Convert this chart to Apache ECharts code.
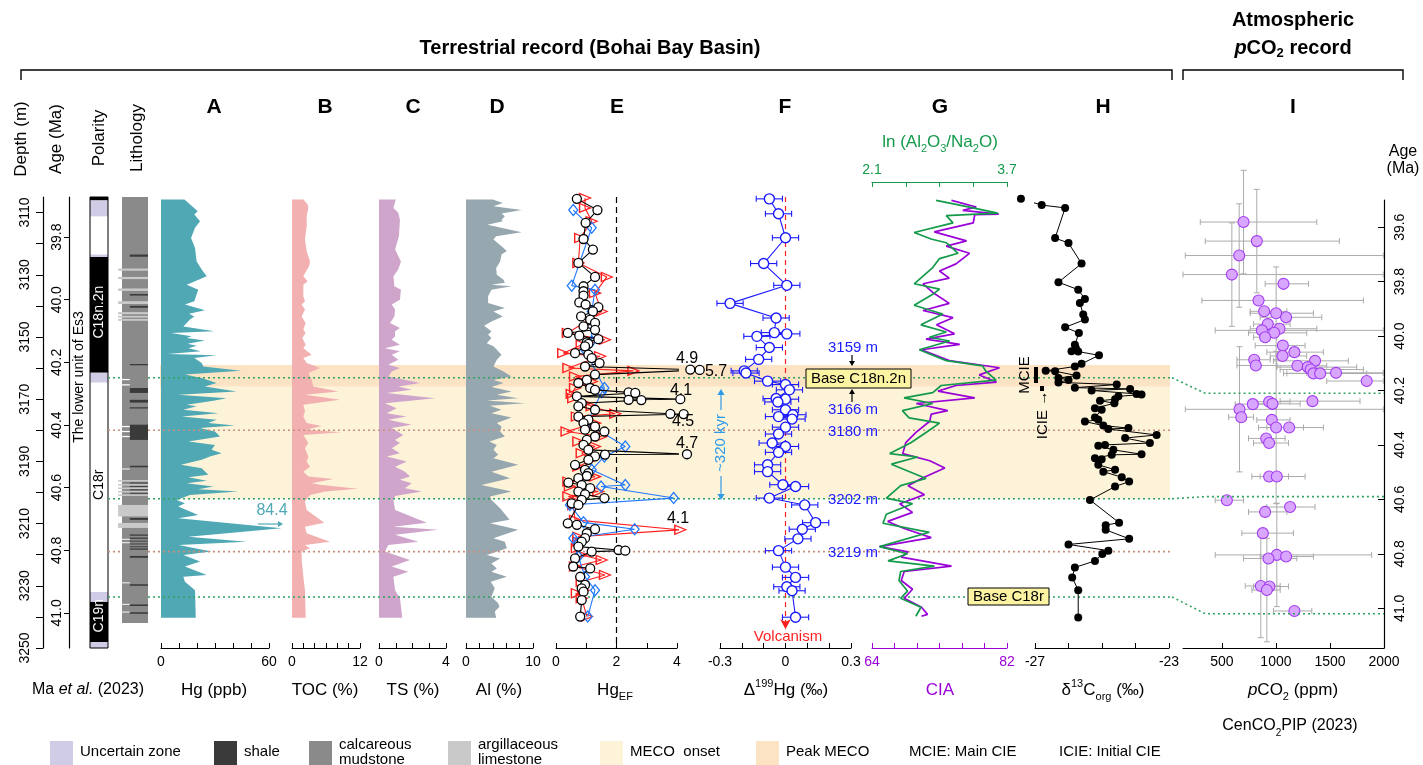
<!DOCTYPE html>
<html>
<head>
<meta charset="utf-8">
<title>MECO record, Bohai Bay Basin</title>
<script src="https://cdn.jsdelivr.net/npm/echarts@6.0.0/dist/echarts.min.js"></script>
<style>
html,body{margin:0;padding:0;background:#ffffff;}
#chart{width:1423px;height:765px;}
</style>
</head>
<body>
<div id="chart"></div>
<script>
// ======================= DATA =======================
const depthTickValues = [3110,3120,3130,3140,3150,3160,3170,3180,3190,3200,3210,3220,3230,3240,3250];
const depthLabelValues = [3110,3130,3150,3170,3190,3210,3230,3250];
const ageTickValues = [39.8,40.0,40.2,40.4,40.6,40.8,41.0];
const pco2AgeTickValues = [39.6,39.8,40.0,40.2,40.4,40.6,40.8,41.0];

// polarity: [top depth, bottom depth, kind] kind 0 normal, 1 reversed, 2 uncertain
const polarityZones = [
  [3105,3106.1,0],[3106.1,3111.3,2],[3111.3,3123.5,1],[3123.5,3124.3,2],[3124.3,3161.5,0],
  [3161.5,3164.7,2],[3164.7,3232.0,1],[3232.0,3235.2,2],[3235.2,3248.1,0],[3248.1,3250,2]
];
const chronNames = ['C18n.2n','C18r','C19n'];
const chronDepths = [3142.0,3197.5,3239.6];

// lithology beds: [top, bottom, kind] 0 calcareous mudstone, 1 shale, 2 argillaceous limestone, 3 gap
const lithologyBeds = [
  [3105,3242,0],
  [3123.5,3124.2,1],[3128.0,3128.7,2],[3130.7,3131.4,2],[3134.4,3135.2,2],[3136.2,3136.7,1],
  [3138.5,3139.4,2],[3140.0,3140.6,1],[3142.0,3142.7,2],[3143.2,3143.8,2],[3144.2,3144.8,2],
  [3158.7,3159.1,1],[3163.5,3163.9,3],[3165.2,3165.6,3],[3166.4,3168.0,1],[3170.2,3171.1,1],
  [3172.6,3173.0,1],[3178.2,3183.1,1],[3178.6,3179.0,3],[3180.2,3180.6,3],[3181.8,3182.2,3],
  [3191.4,3191.9,1],[3192.3,3192.6,3],
  [3196.0,3196.5,2],[3196.8,3197.1,1],[3197.3,3197.8,2],[3197.9,3198.2,1],[3198.4,3198.9,2],
  [3199.0,3199.3,1],[3199.5,3200.0,2],[3200.1,3200.4,1],[3200.6,3201.1,2],
  [3204.0,3207.7,2],[3208.2,3208.8,1],[3209.8,3211.4,2],
  [3213.5,3213.9,1],[3214.5,3214.9,1],[3215.5,3215.8,1],[3216.4,3216.7,1],[3217.3,3217.6,1],[3218.0,3218.4,1],
  [3214.9,3215.2,3],[3216.0,3216.3,3],[3220.4,3221.0,1],[3228.9,3229.2,3],[3229.5,3230.0,1],
  [3235.8,3236.1,3],[3236.0,3236.5,1],[3238.3,3238.6,3],[3238.5,3239.0,1]
];

// A: Hg (ppb) [depth, value]
const hgProfile = [[3105.8,13.0],[3108.8,18.9],[3109.6,20.4],[3110.6,18.5],[3112.8,21.7],[3114.9,18.9],[3118.2,16.7],[3121.4,18.9],[3125.7,19.8],[3128.3,22.6],[3130.5,25.4],[3133.2,14.3],[3134.8,20.7],[3138.5,18.5],[3139.6,13.3],[3141.4,24.4],[3142.5,15.6],[3143.4,18.5],[3144.4,16.1],[3146.6,12.4],[3148.2,29.6],[3148.7,5.6],[3149.8,17.0],[3150.3,14.3],[3151.1,24.4],[3152.2,14.8],[3152.8,19.8],[3153.6,15.2],[3154.6,22.2],[3155.5,3.7],[3155.9,30.9],[3156.8,18.5],[3158.4,22.6],[3159.5,23.5],[3160.9,44.4],[3162.1,13.3],[3163.2,22.6],[3164.8,30.9],[3165.9,24.4],[3167.5,42.0],[3168.6,9.6],[3169.7,36.5],[3170.5,29.1],[3171.8,14.3],[3172.3,19.8],[3173.4,12.4],[3174.5,31.9],[3175.6,11.5],[3176.6,30.9],[3177.7,26.3],[3178.5,41.1],[3179.3,21.7],[3180.4,30.0],[3182.0,32.8],[3183.6,15.2],[3184.7,30.0],[3186.3,28.1],[3187.4,33.7],[3188.4,27.2],[3189.5,22.6],[3191.1,11.1],[3192.2,22.6],[3194.3,26.3],[3195.1,15.2],[3196.2,25.4],[3197.0,14.3],[3198.1,29.1],[3199.0,20.7],[3199.7,43.0],[3200.8,16.1],[3202.4,8.7],[3203.5,13.3],[3204.5,9.6],[3207.2,20.7],[3208.3,9.6],[3211.5,84.4],[3214.2,15.2],[3215.8,47.6],[3216.9,10.0],[3217.9,18.9],[3219.0,28.1],[3220.1,12.4],[3222.2,21.7],[3223.8,13.3],[3226.5,25.4],[3227.1,12.4],[3228.7,13.3],[3231.4,18.9],[3240.3,19.3]];
const hgDrawCap = 67; // the 84.4 ppb spike is drawn truncated

// B: TOC (%)
const tocProfile = [[3105.8,2.0],[3107.4,2.76],[3108.5,2.88],[3111.2,2.59],[3114.4,2.59],[3118.7,2.29],[3122.4,2.59],[3125.7,3.18],[3127.3,3.0],[3130.5,2.0],[3132.1,2.76],[3133.2,2.0],[3136.9,2.0],[3138.5,2.29],[3139.6,1.71],[3141.2,2.29],[3143.4,1.71],[3145.5,2.41],[3147.7,2.0],[3148.7,2.41],[3150.3,1.82],[3152.5,2.41],[3153.6,2.0],[3155.7,3.47],[3156.8,2.0],[3158.4,2.59],[3160.0,4.94],[3161.6,2.88],[3163.8,3.47],[3165.9,3.76],[3167.5,8.18],[3168.6,2.29],[3170.2,8.47],[3171.8,2.0],[3173.9,2.29],[3175.6,2.0],[3177.7,2.59],[3178.6,5.24],[3179.8,2.59],[3180.6,8.76],[3181.5,2.0],[3184.1,2.88],[3185.8,2.29],[3188.4,2.88],[3190.0,2.59],[3191.7,3.18],[3193.3,2.0],[3194.9,2.88],[3195.7,7.29],[3197.0,3.47],[3197.6,5.24],[3198.8,11.7],[3199.7,5.82],[3200.8,3.18],[3202.9,2.29],[3205.6,2.59],[3209.7,5.7],[3211.0,2.29],[3213.1,2.59],[3215.8,6.7],[3216.9,2.29],[3217.9,3.18],[3219.0,1.71],[3221.7,1.71],[3227.1,2.0],[3231.4,2.29],[3240.3,2.41]];

// C: TS (%)
const tsProfile = [[3105.8,1.0],[3108.5,0.86],[3110.1,1.15],[3112.3,1.25],[3117.6,1.19],[3121.9,0.96],[3125.7,1.31],[3128.3,1.15],[3130.5,0.86],[3133.7,0.92],[3134.8,1.31],[3138.0,1.25],[3139.6,0.76],[3141.2,0.96],[3143.4,0.92],[3145.5,0.66],[3147.1,1.25],[3148.2,0.96],[3149.8,0.96],[3150.9,0.76],[3152.5,1.25],[3153.6,0.36],[3154.6,1.25],[3155.7,0.76],[3157.3,1.15],[3158.9,0.56],[3160.0,1.25],[3161.1,0.76],[3162.7,0.56],[3164.8,2.45],[3165.9,1.15],[3167.0,1.95],[3168.0,0.46],[3169.7,3.34],[3171.3,0.36],[3172.9,1.05],[3174.5,0.46],[3175.6,1.65],[3176.6,0.56],[3178.2,1.95],[3179.3,0.76],[3181.5,1.45],[3183.1,0.96],[3184.1,1.25],[3185.8,0.76],[3187.4,1.25],[3188.4,0.46],[3190.0,1.65],[3191.7,0.96],[3193.3,1.55],[3194.9,1.85],[3195.9,1.25],[3197.0,1.95],[3198.6,1.55],[3199.7,2.55],[3201.1,0.96],[3202.4,0.86],[3205.6,0.96],[3209.7,2.85],[3211.0,0.86],[3212.0,3.54],[3213.6,0.96],[3215.8,2.35],[3216.9,0.56],[3219.0,0.36],[3221.7,1.85],[3223.8,0.76],[3225.5,1.75],[3227.1,0.86],[3231.4,0.96],[3234.0,1.25],[3240.3,1.39]];

// D: Al (%)
const alProfile = [[3105.8,4.0],[3106.9,5.5],[3108.0,4.1],[3109.2,8.3],[3110.3,5.3],[3111.2,5.8],[3112.3,5.3],[3112.8,5.5],[3113.9,3.2],[3116.3,8.3],[3117.6,4.5],[3118.7,4.1],[3120.8,5.3],[3122.4,6.1],[3123.5,5.3],[3125.7,5.1],[3127.8,4.5],[3130.0,4.6],[3131.6,5.6],[3132.6,5.8],[3133.2,3.8],[3133.7,6.8],[3134.8,3.8],[3136.9,3.3],[3139.1,3.3],[3140.7,5.8],[3141.8,4.1],[3143.4,5.5],[3145.0,3.8],[3146.4,2.7],[3148.2,3.8],[3149.3,3.3],[3150.3,3.8],[3152.0,3.1],[3153.0,4.1],[3154.1,4.6],[3155.7,5.3],[3157.3,4.6],[3159.5,4.1],[3161.1,5.6],[3162.7,6.8],[3163.8,4.1],[3164.8,5.6],[3166.1,3.8],[3167.5,6.8],[3168.6,4.6],[3169.7,7.8],[3170.4,3.1],[3171.3,8.8],[3172.1,3.6],[3173.4,5.3],[3174.5,3.8],[3175.9,6.8],[3177.7,4.6],[3178.8,5.3],[3180.4,5.1],[3182.0,5.8],[3183.6,3.5],[3184.7,4.6],[3186.3,4.1],[3187.9,4.8],[3189.0,4.1],[3191.1,7.8],[3193.3,3.8],[3195.4,6.6],[3197.6,2.3],[3199.7,6.8],[3201.3,3.6],[3202.4,3.8],[3205.1,5.1],[3208.8,6.5],[3209.9,3.6],[3212.0,7.8],[3214.7,4.1],[3215.8,5.8],[3217.9,6.1],[3220.1,3.1],[3221.2,5.1],[3222.8,3.8],[3224.4,4.6],[3225.5,3.8],[3227.1,6.1],[3228.7,3.7],[3230.8,4.3],[3233.5,3.8],[3235.6,4.8],[3236.7,5.0],[3238.3,4.3],[3240.3,4.5]];

// E: Hg enrichment factor, three normalisations [depth, HgEF]
const hgEfBlack = [[3105.6,0.69],[3109.2,1.37],[3113.3,0.98],[3118.5,0.91],[3121.9,1.22],[3126.2,0.74],[3130.7,1.29],[3133.7,0.91],[3135.3,0.91],[3136.7,0.91],[3138.9,0.77],[3139.6,0.98],[3140.4,1.40],[3141.8,1.22],[3143.4,0.83],[3144.4,1.13],[3145.5,1.29],[3146.6,0.91],[3147.7,1.29],[3148.7,0.39],[3149.6,0.77],[3150.7,1.40],[3151.7,1.02],[3152.2,1.07],[3153.0,0.96],[3155.2,0.63],[3155.7,1.07],[3156.8,1.18],[3158.4,1.44],[3159.5,0.96],[3160.5,4.44],[3160.6,4.75],[3162.1,1.29],[3163.8,1.02],[3164.8,0.74],[3166.4,1.13],[3167.0,1.29],[3167.8,2.40],[3168.0,2.62],[3169.1,0.69],[3170.0,4.11],[3170.2,2.40],[3170.3,2.82],[3171.3,0.85],[3172.3,0.74],[3173.4,1.29],[3174.7,3.78],[3174.8,4.22],[3175.6,0.74],[3176.6,1.07],[3177.7,0.91],[3178.8,1.29],[3179.8,0.96],[3180.4,1.60],[3182.0,1.29],[3183.1,1.02],[3184.7,0.91],[3186.3,1.07],[3187.7,4.33],[3187.8,1.62],[3188.4,1.29],[3189.5,1.07],[3191.1,0.63],[3192.7,0.96],[3193.8,1.07],[3194.7,1.02],[3195.4,0.74],[3196.8,0.41],[3197.6,0.85],[3198.6,1.13],[3199.7,0.74],[3200.6,0.96],[3201.8,1.60],[3202.4,0.85],[3203.5,0.52],[3204.0,0.74],[3209.9,0.39],[3210.4,0.69],[3211.8,1.29],[3213.1,1.02],[3214.7,0.96],[3215.8,0.85],[3217.4,0.74],[3218.5,2.07],[3218.7,2.29],[3219.0,1.18],[3221.2,0.63],[3223.8,0.57],[3224.4,1.13],[3227.1,0.80],[3229.7,0.96],[3230.8,0.85],[3231.9,0.91],[3234.6,0.85],[3239.9,0.80]];
const hgEfRed = [[3105.3,0.96],[3108.5,0.96],[3112.8,1.18],[3118.2,0.80],[3126.2,0.74],[3130.7,1.68],[3135.9,1.29],[3141.8,1.51],[3148.7,0.39],[3150.9,1.62],[3152.5,0.85],[3155.2,0.24],[3156.2,1.46],[3160.0,0.41],[3160.9,2.56],[3162.7,0.63],[3164.3,1.18],[3166.4,0.63],[3168.3,0.52],[3169.7,0.57],[3171.3,0.96],[3172.3,1.18],[3174.7,1.96],[3175.6,0.69],[3177.7,1.29],[3180.4,0.35],[3182.0,1.51],[3183.6,0.74],[3185.2,1.29],[3187.4,0.85],[3189.5,1.18],[3191.7,0.74],[3194.9,1.29],[3196.5,0.41],[3198.1,0.46],[3199.7,1.40],[3201.3,0.41],[3202.4,0.74],[3204.0,0.57],[3208.8,0.63],[3212.0,4.11],[3214.2,0.74],[3215.8,0.74],[3217.9,0.69],[3220.1,0.85],[3221.7,1.51],[3223.8,0.63],[3226.5,1.62],[3228.7,0.85],[3231.4,0.91],[3232.4,0.69],[3234.0,0.85],[3239.9,1.02]];
const hgEfBlue = [[3109.2,0.57],[3114.9,1.18],[3133.5,0.52],[3134.8,1.29],[3141.8,1.18],[3151.4,1.18],[3154.1,0.96],[3166.4,1.60],[3167.8,1.51],[3177.7,1.02],[3185.2,2.29],[3188.4,1.60],[3192.7,1.18],[3197.6,2.29],[3198.1,1.49],[3201.8,3.89],[3204.0,0.46],[3209.6,0.91],[3211.8,2.60],[3214.7,0.57],[3220.6,0.74],[3227.1,0.96],[3231.4,1.29],[3239.9,1.05]];
const hgEfPeakLabels = ['4.9','5.7','4.1','4.5','4.7','4.1'];

// F: Δ199Hg (‰) [depth, value, error]
const d199Hg = [[3105.6,-0.074,0.06],[3110.4,-0.032,0.06],[3118.1,0.0,0.06],[3126.4,-0.10,0.06],[3133.4,0.006,0.06],[3139.2,-0.254,0.06],[3143.9,-0.043,0.06],[3148.6,-0.051,0.06],[3149.0,0.006,0.06],[3149.8,-0.131,0.06],[3153.4,-0.074,0.06],[3157.2,-0.123,0.06],[3160.9,-0.189,0.06],[3161.6,-0.181,0.06],[3164.2,-0.082,0.06],[3165.3,0.0,0.06],[3167.0,0.018,0.06],[3169.8,-0.043,0.06],[3170.0,0.0,0.06],[3170.9,-0.035,0.06],[3173.4,0.0,0.06],[3175.0,0.034,0.06],[3175.6,-0.032,0.06],[3176.4,0.03,0.06],[3179.0,0.0,0.06],[3181.2,-0.032,0.06],[3184.1,-0.061,0.06],[3185.2,0.0,0.06],[3187.1,-0.032,0.06],[3191.1,-0.082,0.06],[3193.3,-0.082,0.06],[3197.5,-0.012,0.06],[3198.1,0.046,0.06],[3201.8,-0.074,0.06],[3204.0,0.088,0.06],[3209.7,0.138,0.06],[3211.8,0.077,0.06],[3214.9,0.057,0.06],[3218.7,-0.032,0.06],[3224.0,0.0,0.06],[3227.3,0.046,0.06],[3230.3,0.006,0.06],[3231.6,0.03,0.06],[3240.1,0.046,0.06]];

// G: CIA and ln(Al2O3/Na2O) [depth, value]
const ciaProfile = [[3106.1,74.6],[3108.2,77.9],[3109.3,76.1],[3110.5,80.9],[3110.7,77.7],[3113.3,77.5],[3116.2,72.3],[3119.1,76.6],[3120.8,73.9],[3123.1,77.0],[3126.5,75.2],[3128.8,73.0],[3131.1,74.3],[3132.9,70.8],[3135.7,72.1],[3139.2,74.3],[3141.5,70.8],[3143.8,74.8],[3146.1,72.6],[3149.0,75.0],[3150.7,71.2],[3152.4,75.7],[3154.1,70.6],[3157.6,74.3],[3159.9,81.0],[3162.2,78.3],[3164.5,80.6],[3165.6,75.2],[3167.4,72.8],[3169.6,77.7],[3171.4,69.9],[3173.7,74.1],[3174.8,71.9],[3177.1,71.7],[3180.6,69.9],[3184.0,68.5],[3187.5,68.1],[3189.8,71.7],[3192.1,73.7],[3195.5,70.6],[3197.8,68.8],[3200.7,71.0],[3203.6,67.7],[3206.4,69.4],[3209.3,66.1],[3211.6,68.3],[3214.5,71.9],[3217.4,65.0],[3219.1,68.8],[3220.8,67.9],[3223.7,74.6],[3225.4,68.3],[3228.3,67.9],[3231.1,69.4],[3234.0,68.3],[3236.9,70.6],[3239.2,71.4],[3239.8,70.6]];
const lnAlNaProfile = [[3106.1,2.86],[3108.2,3.24],[3110.2,3.59],[3111.0,2.98],[3113.3,3.06],[3116.4,2.60],[3118.5,2.80],[3119.7,2.98],[3123.1,3.12],[3124.8,2.90],[3127.7,2.82],[3132.9,2.60],[3134.6,2.90],[3136.3,2.82],[3139.8,2.60],[3141.5,2.80],[3142.6,2.94],[3146.1,2.68],[3148.4,2.98],[3150.1,2.78],[3151.3,3.02],[3154.1,2.66],[3157.6,2.98],[3159.3,3.41],[3161.0,3.45],[3163.9,3.57],[3165.6,2.92],[3167.9,2.82],[3169.6,2.48],[3171.4,2.82],[3173.7,2.46],[3176.0,2.54],[3177.7,2.90],[3180.0,2.78],[3184.0,2.56],[3187.5,2.31],[3188.6,2.64],[3190.9,2.33],[3195.5,2.74],[3197.8,2.44],[3201.8,2.27],[3203.6,2.58],[3207.0,2.27],[3209.9,2.23],[3212.8,2.78],[3217.4,2.19],[3219.7,2.52],[3222.0,2.29],[3223.7,2.84],[3225.4,2.44],[3228.3,2.42],[3231.7,2.52],[3234.0,2.44],[3236.9,2.68],[3239.8,2.62]];

// H: δ13Corg (‰) [depth, value]
const d13Corg = [[3105.6,-27.42],[3107.6,-26.80],[3108.5,-26.10],[3118.2,-26.40],[3119.8,-26.00],[3126.4,-25.61],[3132.4,-26.30],[3134.8,-25.71],[3137.8,-25.51],[3139.1,-25.66],[3142.8,-25.56],[3144.4,-25.51],[3146.9,-26.10],[3148.7,-25.69],[3152.5,-25.81],[3153.6,-25.78],[3154.6,-25.91],[3154.7,-25.71],[3155.9,-25.09],[3158.6,-25.61],[3159.5,-25.81],[3160.9,-26.68],[3161.0,-26.40],[3162.4,-25.76],[3163.2,-26.30],[3163.8,-26.00],[3164.6,-26.30],[3165.3,-24.56],[3166.3,-25.81],[3166.7,-24.16],[3167.2,-25.31],[3168.3,-23.97],[3168.5,-23.82],[3169.1,-24.51],[3170.0,-24.61],[3170.5,-25.06],[3171.3,-24.63],[3172.9,-25.21],[3173.4,-25.01],[3175.9,-25.21],[3176.6,-25.11],[3177.2,-25.51],[3178.5,-24.96],[3179.3,-24.21],[3179.6,-24.81],[3181.5,-23.37],[3182.5,-24.31],[3184.1,-23.57],[3184.7,-24.91],[3185.0,-25.11],[3186.3,-24.66],[3187.7,-23.82],[3187.9,-24.71],[3189.0,-25.21],[3189.3,-25.01],[3191.1,-25.11],[3192.7,-24.61],[3193.3,-24.96],[3195.1,-24.41],[3196.5,-24.19],[3198.1,-24.61],[3202.4,-25.36],[3209.7,-24.49],[3210.5,-24.89],[3212.0,-24.89],[3214.9,-24.19],[3216.7,-26.00],[3218.7,-24.81],[3219.8,-24.99],[3222.0,-25.21],[3224.1,-25.81],[3227.3,-25.89],[3231.4,-25.71],[3240.2,-25.71]];

// I: pCO2 (CenCO2PIP 2023) [age Ma, pCO2, low, high, age error]
const pco2Records = [[39.581,700,300,1378,0.19],[39.651,823,346,1587,0.19],[39.704,660,161,1994,0.19],[39.774,592,140,1994,0.19],[39.808,1070,900,1301,0],[39.869,839,315,1809,0],[39.909,891,762,1101,0],[39.916,1002,762,1347,0.17],[39.931,1094,854,1424,0],[39.956,925,793,1131,0],[39.973,1033,762,1378,0],[39.979,870,438,1994,0],[39.988,984,746,1285,0],[40.004,900,793,1008,0],[40.035,1064,808,1270,0],[40.059,1171,916,1439,0],[40.073,1061,947,1285,0],[40.087,799,639,947,0],[40.091,1362,977,1670,0],[40.108,814,639,1008,0],[40.109,1199,1008,1470,0],[40.114,1295,1008,1747,0],[40.123,1322,1039,1809,0],[40.137,1347,1101,1994,0],[40.137,1409,1070,1840,0],[40.135,1556,1285,1994,0],[40.165,1840,1470,1994,0],[40.241,937,762,1131,0],[40.249,968,762,1224,0],[40.250,786,623,947,0],[40.239,1338,1039,1778,0],[40.269,663,161,1994,0.23],[40.298,679,562,793,0],[40.308,962,823,1131,0],[40.336,1002,839,1255,0.28],[40.336,1122,916,1439,0],[40.376,910,746,1085,0],[40.393,937,793,1116,0],[40.516,937,777,1116,0],[40.516,1008,854,1270,0],[40.603,546,438,700,0],[40.628,1131,916,1362,0],[40.646,900,746,1101,0],[40.724,879,685,1162,0],[40.804,1008,438,1886,0.19],[40.810,1094,854,1347,0],[40.817,931,700,1193,0],[40.918,860,716,1039,0.19],[40.920,940,793,1116,0],[40.933,916,777,1039,0.19],[41.010,1171,977,1332,0]];

// MECO intervals [top, bottom, kind] 0 onset, 1 peak
const mecoBands = [[3159,3166,1],[3166,3202,0]];
// correlation lines [depth, kind 0 green / 1 brown, age in pCO2 panel]
const eventLines = [[3163.1,0,40.21],[3180,1,null],[3202,0,40.59],[3219,1,null],[3233.6,0,41.02]];
const eventConnectorKnee = 345; // pCO2 value where the sloping tie reaches its age

// ======================= CHART =======================
const FONT = '"Liberation Sans", Arial, Helvetica, sans-serif';
const DEPTH_MIN = 3105, DEPTH_MAX = 3250;
const PANEL_TOP = 197, PANEL_H = 451;
const C = {
  hg:'#4fa8b4', toc:'#f2b0b0', ts:'#cfa5cc', al:'#97a7b0',
  onset:'#fdf3d8', peak:'#fbe3c4', green:'#2fa360', brown:'#c8907c',
  uncertain:'#d0cce6', shale:'#3a3a3a', mud:'#8a8a8a', lime:'#c9c9c9',
  red:'#ff1f1f', blueE:'#1f78ff', blueF:'#1a1aff', cia:'#9a00d8', ln:'#139a4a',
  pco2Fill:'#d9a6ff', pco2Edge:'#a23cf0', err:'#ababab'
};

function gridBox(left, width, top, height) {
  return {left: left, width: width, top: top == null ? PANEL_TOP : top, height: height == null ? PANEL_H : height,
          containLabel: false, outerBoundsMode: 'none'};
}
const grids = [
  gridBox(43,1), gridBox(69,1), gridBox(90,18), gridBox(122,26),
  gridBox(161,108), gridBox(292,68), gridBox(379,67), gridBox(466,67),
  gridBox(556,121), gridBox(720,131), gridBox(872,135), gridBox(1035,134),
  gridBox(1183,201,200,448), gridBox(160,1010), gridBox(108,1064)
];

function plainNumber(v) { return String(Math.round(v * 1000) / 1000); }
function hiddenX(gi, min, max) { return {type:'value', gridIndex:gi, min:min, max:max, show:false}; }
function depthY(gi) { return {type:'value', gridIndex:gi, min:DEPTH_MIN, max:DEPTH_MAX, inverse:true, show:false}; }
function bottomAxis(gi, min, max, ticks, labels, color) {
  color = color || '#000';
  return {type:'value', gridIndex:gi, min:min, max:max, position:'bottom',
    axisLine:{show:true, onZero:false, lineStyle:{color:color, width:1}},
    axisTick:{show:true, inside:true, length:5, customValues:ticks, lineStyle:{color:color, width:1}},
    axisLabel:{show:true, customValues:labels, color:color, fontSize:14, fontFamily:FONT, margin:7, formatter: plainNumber},
    splitLine:{show:false}};
}
function topAxis(gi, min, max, ticks, labels, color) {
  return {type:'value', gridIndex:gi, min:min, max:max, position:'top', offset:15,
    axisLine:{show:true, onZero:false, lineStyle:{color:color, width:1.2}},
    axisTick:{show:true, inside:true, length:5, customValues:ticks, lineStyle:{color:color}},
    axisLabel:{show:true, customValues:labels, color:color, fontSize:14, fontFamily:FONT, margin:5,
               formatter: function (v) { return v.toFixed(1); }},
    splitLine:{show:false}};
}

const xAxes = [
  hiddenX(0,0,1), hiddenX(1,0,1), hiddenX(2,0,1), hiddenX(3,0,1),
  bottomAxis(4,0,60,[0,10,20,30,40,50,60],[0,60]),
  bottomAxis(5,0,12,[0,2,4,6,8,10,12],[0,12]),
  bottomAxis(6,0,4,[0,1,2,3,4],[0,4]),
  bottomAxis(7,0,10,[0,2,4,6,8,10],[0,10]),
  bottomAxis(8,0,4,[0,1,2,3,4],[0,2,4]),
  bottomAxis(9,-0.3,0.3,[-0.3,-0.2,-0.1,0,0.1,0.2,0.3],[-0.3,0,0.3]),
  bottomAxis(10,64,82,[64,67,70,73,76,79,82],[64,82],C.cia),
  bottomAxis(11,-27,-23,[-27,-26,-25,-24,-23],[-27,-23]),
  bottomAxis(12,140,2000,[500,1000,1500,2000],[500,1000,1500,2000]),
  hiddenX(13,0,1), hiddenX(14,0,1),
  topAxis(10,2.1,3.7,[2.1,2.5,2.9,3.3,3.7],[2.1,3.7],C.ln)
];

const yAxes = [
  {type:'value', gridIndex:0, min:DEPTH_MIN, max:DEPTH_MAX, inverse:true, position:'left',
   axisLine:{show:true, onZero:false, lineStyle:{color:'#000', width:1.2}},
   axisTick:{show:true, length:7, customValues:depthTickValues, lineStyle:{color:'#000'}},
   axisLabel:{customValues:depthLabelValues, rotate:90, margin:11, fontSize:14, fontFamily:FONT, color:'#000',
              formatter: function (v) { return String(Math.round(v)); }},
   splitLine:{show:false}},
  {type:'value', gridIndex:1, min:39.672, max:41.112, inverse:true, position:'left',
   axisLine:{show:true, onZero:false, lineStyle:{color:'#000', width:1.2}},
   axisTick:{show:true, length:5, customValues:ageTickValues, lineStyle:{color:'#000'}},
   axisLabel:{customValues:ageTickValues, rotate:90, margin:5, fontSize:14, fontFamily:FONT, color:'#000',
              formatter:function (v) { return v.toFixed(1); }},
   splitLine:{show:false}},
  depthY(2), depthY(3), depthY(4), depthY(5), depthY(6), depthY(7), depthY(8), depthY(9), depthY(10), depthY(11),
  {type:'value', gridIndex:12, min:39.5, max:41.146, inverse:true, position:'right',
   axisLine:{show:true, onZero:false, lineStyle:{color:'#000', width:1.2}},
   axisTick:{show:true, inside:true, length:6, customValues:pco2AgeTickValues, lineStyle:{color:'#000'}},
   axisLabel:{customValues:pco2AgeTickValues, rotate:90, margin:9, fontSize:14, fontFamily:FONT, color:'#000',
              formatter:function (v) { return v.toFixed(1); }},
   splitLine:{show:false}},
  depthY(13), depthY(14)
];

function rectFrom(api, x0, d0, x1, d1) {
  const a = api.coord([x0, d0]), b = api.coord([x1, d1]);
  return {x: Math.min(a[0], b[0]), y: Math.min(a[1], b[1]), width: Math.abs(b[0] - a[0]), height: Math.abs(b[1] - a[1])};
}

function profileSeries(idx, profile, color, cap) {
  return {type:'custom', xAxisIndex:idx, yAxisIndex:idx, z:3, silent:true, clip:false,
    data:[[0, profile[0][0]]],
    renderItem: function (params, api) {
      const pts = [api.coord([0, profile[0][0]])];
      profile.forEach(function (p) { pts.push(api.coord([cap == null ? p[1] : Math.min(p[1], cap), p[0]])); });
      pts.push(api.coord([0, profile[profile.length - 1][0]]));
      return {type:'polygon', shape:{points:pts}, style:{fill:color, stroke:null}};
    }};
}

function hgEfSeries(data, symbol, rotate, size, color, z) {
  return {type:'line', xAxisIndex:8, yAxisIndex:8, z:z, clip:false, showAllSymbol:true, animation:false,
    data: data.map(function (p) { return [p[1], p[0]]; }),
    symbol:symbol, symbolSize:size, symbolRotate:rotate,
    lineStyle:{color:color, width:1.1},
    itemStyle:{color: symbol === 'circle' ? '#ffffff' : 'rgba(255,255,255,0)', borderColor:color, borderWidth:1.3}};
}

const polarityColors = ['#000000', '#ffffff', C.uncertain];
const chronColors = ['#ffffff', '#000000', '#ffffff'];
const lithoColors = [C.mud, C.shale, C.lime, '#ffffff'];
const lithoSpan = [[0,1],[0.3,1],[-0.15,1],[0,0.3]];

const series = [
  // MECO bands
  {type:'custom', xAxisIndex:13, yAxisIndex:13, z:1, silent:true,
   data: mecoBands,
   renderItem: function (params, api) {
     return {type:'rect', shape: rectFrom(api, 0, api.value(0), 1, api.value(1)),
             style:{fill: api.value(2) === 1 ? C.peak : C.onset}};
   }},
  // polarity
  {type:'custom', xAxisIndex:2, yAxisIndex:2, z:3, silent:true,
   data: polarityZones,
   renderItem: function (params, api) {
     return {type:'rect', shape: rectFrom(api, 0, api.value(0), 1, api.value(1)),
             style:{fill: polarityColors[api.value(2)]}};
   }},
  {type:'custom', xAxisIndex:2, yAxisIndex:2, z:4, silent:true,
   data: [[DEPTH_MIN, DEPTH_MAX]],
   renderItem: function (params, api) {
     return {type:'rect', shape: rectFrom(api, 0, api.value(0), 1, api.value(1)),
             style:{fill:null, stroke:'#000', lineWidth:1}};
   }},
  {type:'custom', xAxisIndex:2, yAxisIndex:2, z:5, silent:true,
   data: chronDepths.map(function (d, i) { return [0.5, d, i]; }),
   renderItem: function (params, api) {
     const p = api.coord([api.value(0), api.value(1)]);
     const i = api.value(2);
     return {type:'text', x:p[0], y:p[1], rotation:Math.PI / 2,
             style:{text: chronNames[i], fill: chronColors[i], fontSize:14, fontFamily:FONT, align:'center', verticalAlign:'middle'}};
   }},
  // lithology
  {type:'custom', xAxisIndex:3, yAxisIndex:3, z:6, silent:true,
   data: lithologyBeds,
   renderItem: function (params, api) {
     const k = api.value(2);
     return {type:'rect', shape: rectFrom(api, lithoSpan[k][0], api.value(0), lithoSpan[k][1], api.value(1)),
             style:{fill: lithoColors[k]}};
   }},
  // profiles A-D
  profileSeries(4, hgProfile, C.hg, hgDrawCap),
  profileSeries(5, tocProfile, C.toc),
  profileSeries(6, tsProfile, C.ts),
  profileSeries(7, alProfile, C.al),
  // event lines
  {type:'custom', xAxisIndex:14, yAxisIndex:14, z:5, silent:true,
   data: eventLines.map(function (e) { return [e[0], e[1]]; }),
   renderItem: function (params, api) {
     const a = api.coord([0, api.value(0)]), b = api.coord([1, api.value(0)]);
     return {type:'line', shape:{x1:a[0], y1:a[1], x2:b[0], y2:b[1]},
             style:{stroke: api.value(1) === 0 ? C.green : C.brown, lineWidth:1.6, lineDash:[2,3]}};
   }},
  // E
  Object.assign(hgEfSeries(hgEfRed, 'triangle', -90, [9,11], C.red, 6), {
    markLine:{silent:true, symbol:['none','none'], label:{show:false},
      lineStyle:{color:'#000', type:[6,4], width:1.2}, data:[{xAxis:2}]}}),
  hgEfSeries(hgEfBlue, 'diamond', 0, [9,11], C.blueE, 7),
  hgEfSeries(hgEfBlack, 'circle', 0, 9, '#000000', 8),
  // F error bars
  {type:'custom', xAxisIndex:9, yAxisIndex:9, z:6, silent:true, clip:false,
   data: d199Hg.map(function (r) { return [r[1], r[0], r[2]]; }),
   renderItem: function (params, api) {
     const v = api.value(0), d = api.value(1), e = api.value(2);
     const a = api.coord([v - e, d]), b = api.coord([v + e, d]);
     const st = {stroke:C.blueF, lineWidth:1.1};
     return {type:'group', children:[
       {type:'line', shape:{x1:a[0], y1:a[1], x2:b[0], y2:b[1]}, style:st},
       {type:'line', shape:{x1:a[0], y1:a[1] - 3, x2:a[0], y2:a[1] + 3}, style:st},
       {type:'line', shape:{x1:b[0], y1:b[1] - 3, x2:b[0], y2:b[1] + 3}, style:st}
     ]};
   }},
  {type:'line', xAxisIndex:9, yAxisIndex:9, z:7, clip:false, showAllSymbol:true,
   data: d199Hg.map(function (r) { return [r[1], r[0]]; }),
   symbol:'circle', symbolSize:10,
   lineStyle:{color:C.blueF, width:1.1},
   itemStyle:{color:'#ffffff', borderColor:C.blueF, borderWidth:1.4},
   markLine:{silent:true, symbol:['none','arrow'], symbolSize:[8,10], label:{show:false},
     lineStyle:{color:C.red, type:[5,4], width:1.2},
     data:[[{coord:[0, DEPTH_MIN]}, {coord:[0, 3244]}]]}},
  // G
  {type:'line', xAxisIndex:10, yAxisIndex:10, z:6, clip:false, symbol:'none',
   data: ciaProfile.map(function (p) { return [p[1], p[0]]; }),
   lineStyle:{color:C.cia, width:1.7}},
  {type:'line', xAxisIndex:15, yAxisIndex:10, z:7, clip:false, symbol:'none',
   data: lnAlNaProfile.map(function (p) { return [p[1], p[0]]; }),
   lineStyle:{color:C.ln, width:1.7}},
  // H
  {type:'line', xAxisIndex:11, yAxisIndex:11, z:7, clip:false, showAllSymbol:true,
   data: d13Corg.map(function (p) { return [p[1], p[0]]; }),
   symbol:'circle', symbolSize:8,
   lineStyle:{color:'#000', width:1}, itemStyle:{color:'#000'}},
  // I error bars
  {type:'custom', xAxisIndex:12, yAxisIndex:12, z:5, silent:true, clip:false,
   data: pco2Records.map(function (r) { return [r[1], r[0], r[2], r[3], r[4]]; }),
   renderItem: function (params, api) {
     const x = api.value(0), age = api.value(1), lo = api.value(2), hi = api.value(3), ae = api.value(4);
     const st = {stroke:C.err, lineWidth:1};
     const a = api.coord([lo, age]), b = api.coord([hi, age]);
     const kids = [
       {type:'line', shape:{x1:a[0], y1:a[1], x2:b[0], y2:b[1]}, style:st},
       {type:'line', shape:{x1:a[0], y1:a[1] - 3, x2:a[0], y2:a[1] + 3}, style:st},
       {type:'line', shape:{x1:b[0], y1:b[1] - 3, x2:b[0], y2:b[1] + 3}, style:st}
     ];
     if (ae > 0) {
       const c = api.coord([x, age - ae]), d = api.coord([x, age + ae]);
       kids.push({type:'line', shape:{x1:c[0], y1:c[1], x2:d[0], y2:d[1]}, style:st});
       kids.push({type:'line', shape:{x1:c[0] - 3, y1:c[1], x2:c[0] + 3, y2:c[1]}, style:st});
       kids.push({type:'line', shape:{x1:d[0] - 3, y1:d[1], x2:d[0] + 3, y2:d[1]}, style:st});
     }
     return {type:'group', children:kids};
   }},
  {type:'scatter', xAxisIndex:12, yAxisIndex:12, z:8, clip:false,
   data: pco2Records.map(function (r) { return [r[1], r[0]]; }),
   symbol:'circle', symbolSize:11,
   itemStyle:{color:C.pco2Fill, borderColor:C.pco2Edge, borderWidth:1.1, opacity:1}}
];

const option = {
  backgroundColor:'#ffffff',
  animation:false,
  textStyle:{fontFamily:FONT},
  grid: grids, xAxis: xAxes, yAxis: yAxes, series: series
};

const chart = echarts.init(document.getElementById('chart'), null, {renderer:'canvas', width:1423, height:765});
chart.setOption(option);

// ======================= ANNOTATIONS =======================
function T(x, y, text, size, extra, rotate) {
  const el = {type:'text', x:x, y:y, silent:true, z:100,
    style:Object.assign({text:text, fill:'#000', fontSize:size || 17, fontFamily:FONT, align:'center', verticalAlign:'middle'}, extra || {})};
  if (rotate) el.rotation = Math.PI / 2;
  return el;
}
function L(points, color, width, dash) {
  return {type:'polyline', silent:true, z:100, shape:{points:points},
    style:{stroke:color || '#000', lineWidth:width || 1, fill:null, lineDash:dash || null}};
}
function head(x, y, dir, color, s) {
  s = s || 5;
  let pts;
  if (dir === 'down') pts = [[x - s * 0.6, y - s], [x + s * 0.6, y - s], [x, y]];
  else if (dir === 'up') pts = [[x - s * 0.6, y + s], [x + s * 0.6, y + s], [x, y]];
  else pts = [[x - s, y - s * 0.6], [x - s, y + s * 0.6], [x, y]];
  return {type:'polygon', silent:true, z:100, shape:{points:pts}, style:{fill:color || '#000'}};
}
function R(x, y, w, h, fill, stroke) {
  return {type:'rect', silent:true, z:100, shape:{x:x, y:y, width:w, height:h},
    style:{fill:fill, stroke:stroke || null, lineWidth:1}};
}
function richStyle(size, color, extra) {
  const base = {fontSize:size, fontFamily:FONT, fill:color, lineHeight:24};
  return Object.assign({
    n: base,
    i: Object.assign({}, base, {fontStyle:'italic'}),
    s: {fontSize:Math.round(size * 0.65), fontFamily:FONT, fill:color, lineHeight:13, verticalAlign:'bottom'},
    p: {fontSize:Math.round(size * 0.65), fontFamily:FONT, fill:color, lineHeight:13, verticalAlign:'top'}
  }, extra || {});
}

const g = [];
// headings
g.push(T(590, 48, 'Terrestrial record (Bohai Bay Basin)', 20, {fontWeight:'bold'}));
g.push(T(1293, 20, 'Atmospheric', 20, {fontWeight:'bold'}));
g.push(T(1293, 48, '{i|p}{n|CO}{s|2}{n| record}', 20, {rich: (function () {
  const r = richStyle(20, '#000');
  r.n.fontWeight = 'bold'; r.i.fontWeight = 'bold'; r.s.fontWeight = 'bold';
  return r; })()}));
g.push(L([[21,80],[21,70],[1172,70],[1172,80]], '#000', 1.4));
g.push(L([[1183,80],[1183,70],[1403,70],[1403,80]], '#000', 1.4));
[['A',214],['B',325],['C',413],['D',497],['E',617],['F',785],['G',940],['H',1103],['I',1293]].forEach(function (p) {
  g.push(T(p[1], 107, p[0], 21, {fontWeight:'bold'}));
});
// column headers
g.push(T(21, 139, 'Depth (m)', 17, null, true));
g.push(T(56, 139, 'Age (Ma)', 17, null, true));
g.push(T(99, 138, 'Polarity', 17, null, true));
g.push(T(137, 138, 'Lithology', 17, null, true));
g.push(T(79, 377, 'The lower unit of Es3', 14, null, true));
g.push(T(1403, 152, 'Age', 16));
g.push(T(1403, 169, '(Ma)', 16));
// bottom axis names
g.push(T(88, 690, '{n|Ma }{i|et al.}{n| (2023)}', 16, {rich: richStyle(16, '#000')}));
g.push(T(214, 690, 'Hg (ppb)', 17));
g.push(T(325, 690, 'TOC (%)', 17));
g.push(T(413, 690, 'TS (%)', 17));
g.push(T(499, 690, 'Al (%)', 17));
g.push(T(615, 690, '{n|Hg}{s|EF}', 17, {rich: richStyle(17, '#000')}));
g.push(T(786, 690, '{n|Δ}{p|199}{n|Hg (‰)}', 17, {rich: richStyle(17, '#000')}));
g.push(T(940, 690, 'CIA', 17, {fill:C.cia}));
g.push(T(1103, 690, '{n|δ}{p|13}{n|C}{s|org}{n| (‰)}', 17, {rich: richStyle(17, '#000')}));
g.push(T(1293, 690, '{i|p}{n|CO}{s|2}{n| (ppm)}', 17, {rich: richStyle(17, '#000')}));
g.push(T(1290, 726, '{n|CenCO}{s|2}{n|PIP (2023)}', 16, {rich: richStyle(16, '#000')}));
// legend
[[50, C.uncertain, 'Uncertain zone'], [214, C.shale, 'shale'], [309, C.mud, 'calcareous\nmudstone'],
 [448, C.lime, 'argillaceous\nlimestone'], [600, C.onset, 'MECO  onset'], [756, C.peak, 'Peak MECO']].forEach(function (it) {
  g.push(R(it[0], 741, 23, 24, it[1]));
  g.push(T(it[0] + 30, 752, it[2], 15, {align:'left', lineHeight:15}));
});
g.push(T(909, 752, 'MCIE: Main CIE', 15, {align:'left'}));
g.push(T(1059, 752, 'ICIE: Initial CIE', 15, {align:'left'}));
// A: off-scale spike
g.push(T(272, 511, '84.4', 16, {fill:C.hg}));
g.push(L([[258,524],[279,524]], C.hg, 1.2));
g.push(head(283, 524, 'right', C.hg, 5));
// E: value labels
[[687,359],[716,372],[681,391],[683,422],[687,444],[678,519]].forEach(function (p, i) {
  g.push(T(p[0], p[1], hgEfPeakLabels[i], 16));
});
// F annotations
const blueTxt = {fill:C.blueF};
g.push(T(853, 348, '3159 m', 15, blueTxt));
g.push(L([[852,355],[852,362]], '#000', 1.2)); g.push(head(852, 366, 'down', '#000', 5));
g.push(R(806, 369, 105, 19, '#fdf4a3', '#000'));
g.push(T(858.5, 378.5, 'Base C18n.2n', 15));
g.push(L([[852,393],[852,402]], '#000', 1.2)); g.push(head(852, 389, 'up', '#000', 5));
g.push(T(853, 410, '3166 m', 15, blueTxt));
g.push(T(853, 432, '3180 m', 15, blueTxt));
g.push(T(853, 500, '3202 m', 15, blueTxt));
g.push(T(853, 553, '3219 m', 15, blueTxt));
g.push(T(721, 443, '~320 kyr', 15, {fill:'#2f9be8'}, true));
g.push(L([[721,394],[721,410]], '#2f9be8', 1.2)); g.push(head(721, 389, 'up', '#2f9be8', 6));
g.push(L([[721,476],[721,495]], '#2f9be8', 1.2)); g.push(head(721, 500, 'down', '#2f9be8', 6));
g.push(T(788, 637, 'Volcanism', 15, {fill:C.red}));
// G title
g.push(T(940, 142, '{n|ln (Al}{s|2}{n|O}{s|3}{n|/Na}{s|2}{n|O)}', 17, {rich: richStyle(17, C.ln)}));
// H annotations
g.push(T(1025, 375, 'MCIE', 15, null, true));
g.push(R(1034, 367, 4, 16, '#000'));
g.push(T(1043, 415, 'ICIE →', 15, null, true));
g.push(R(1040, 386, 4, 5, '#000'));
g.push(R(968, 588, 81, 17, '#fdf4a3', '#000'));
g.push(T(1008.5, 596.5, 'Base C18r', 15));
// tie lines into the pCO2 age scale
eventLines.forEach(function (e) {
  if (e[2] == null) return;
  const p0 = chart.convertToPixel({gridIndex:14}, [1, e[0]]);
  const p1 = chart.convertToPixel({gridIndex:12}, [eventConnectorKnee, e[2]]);
  const p2 = chart.convertToPixel({gridIndex:12}, [2000, e[2]]);
  g.push(L([p0, p1, p2], C.green, 1.6, [2,3]));
});

chart.setOption({graphic:{elements:g}});
</script>
</body>
</html>
